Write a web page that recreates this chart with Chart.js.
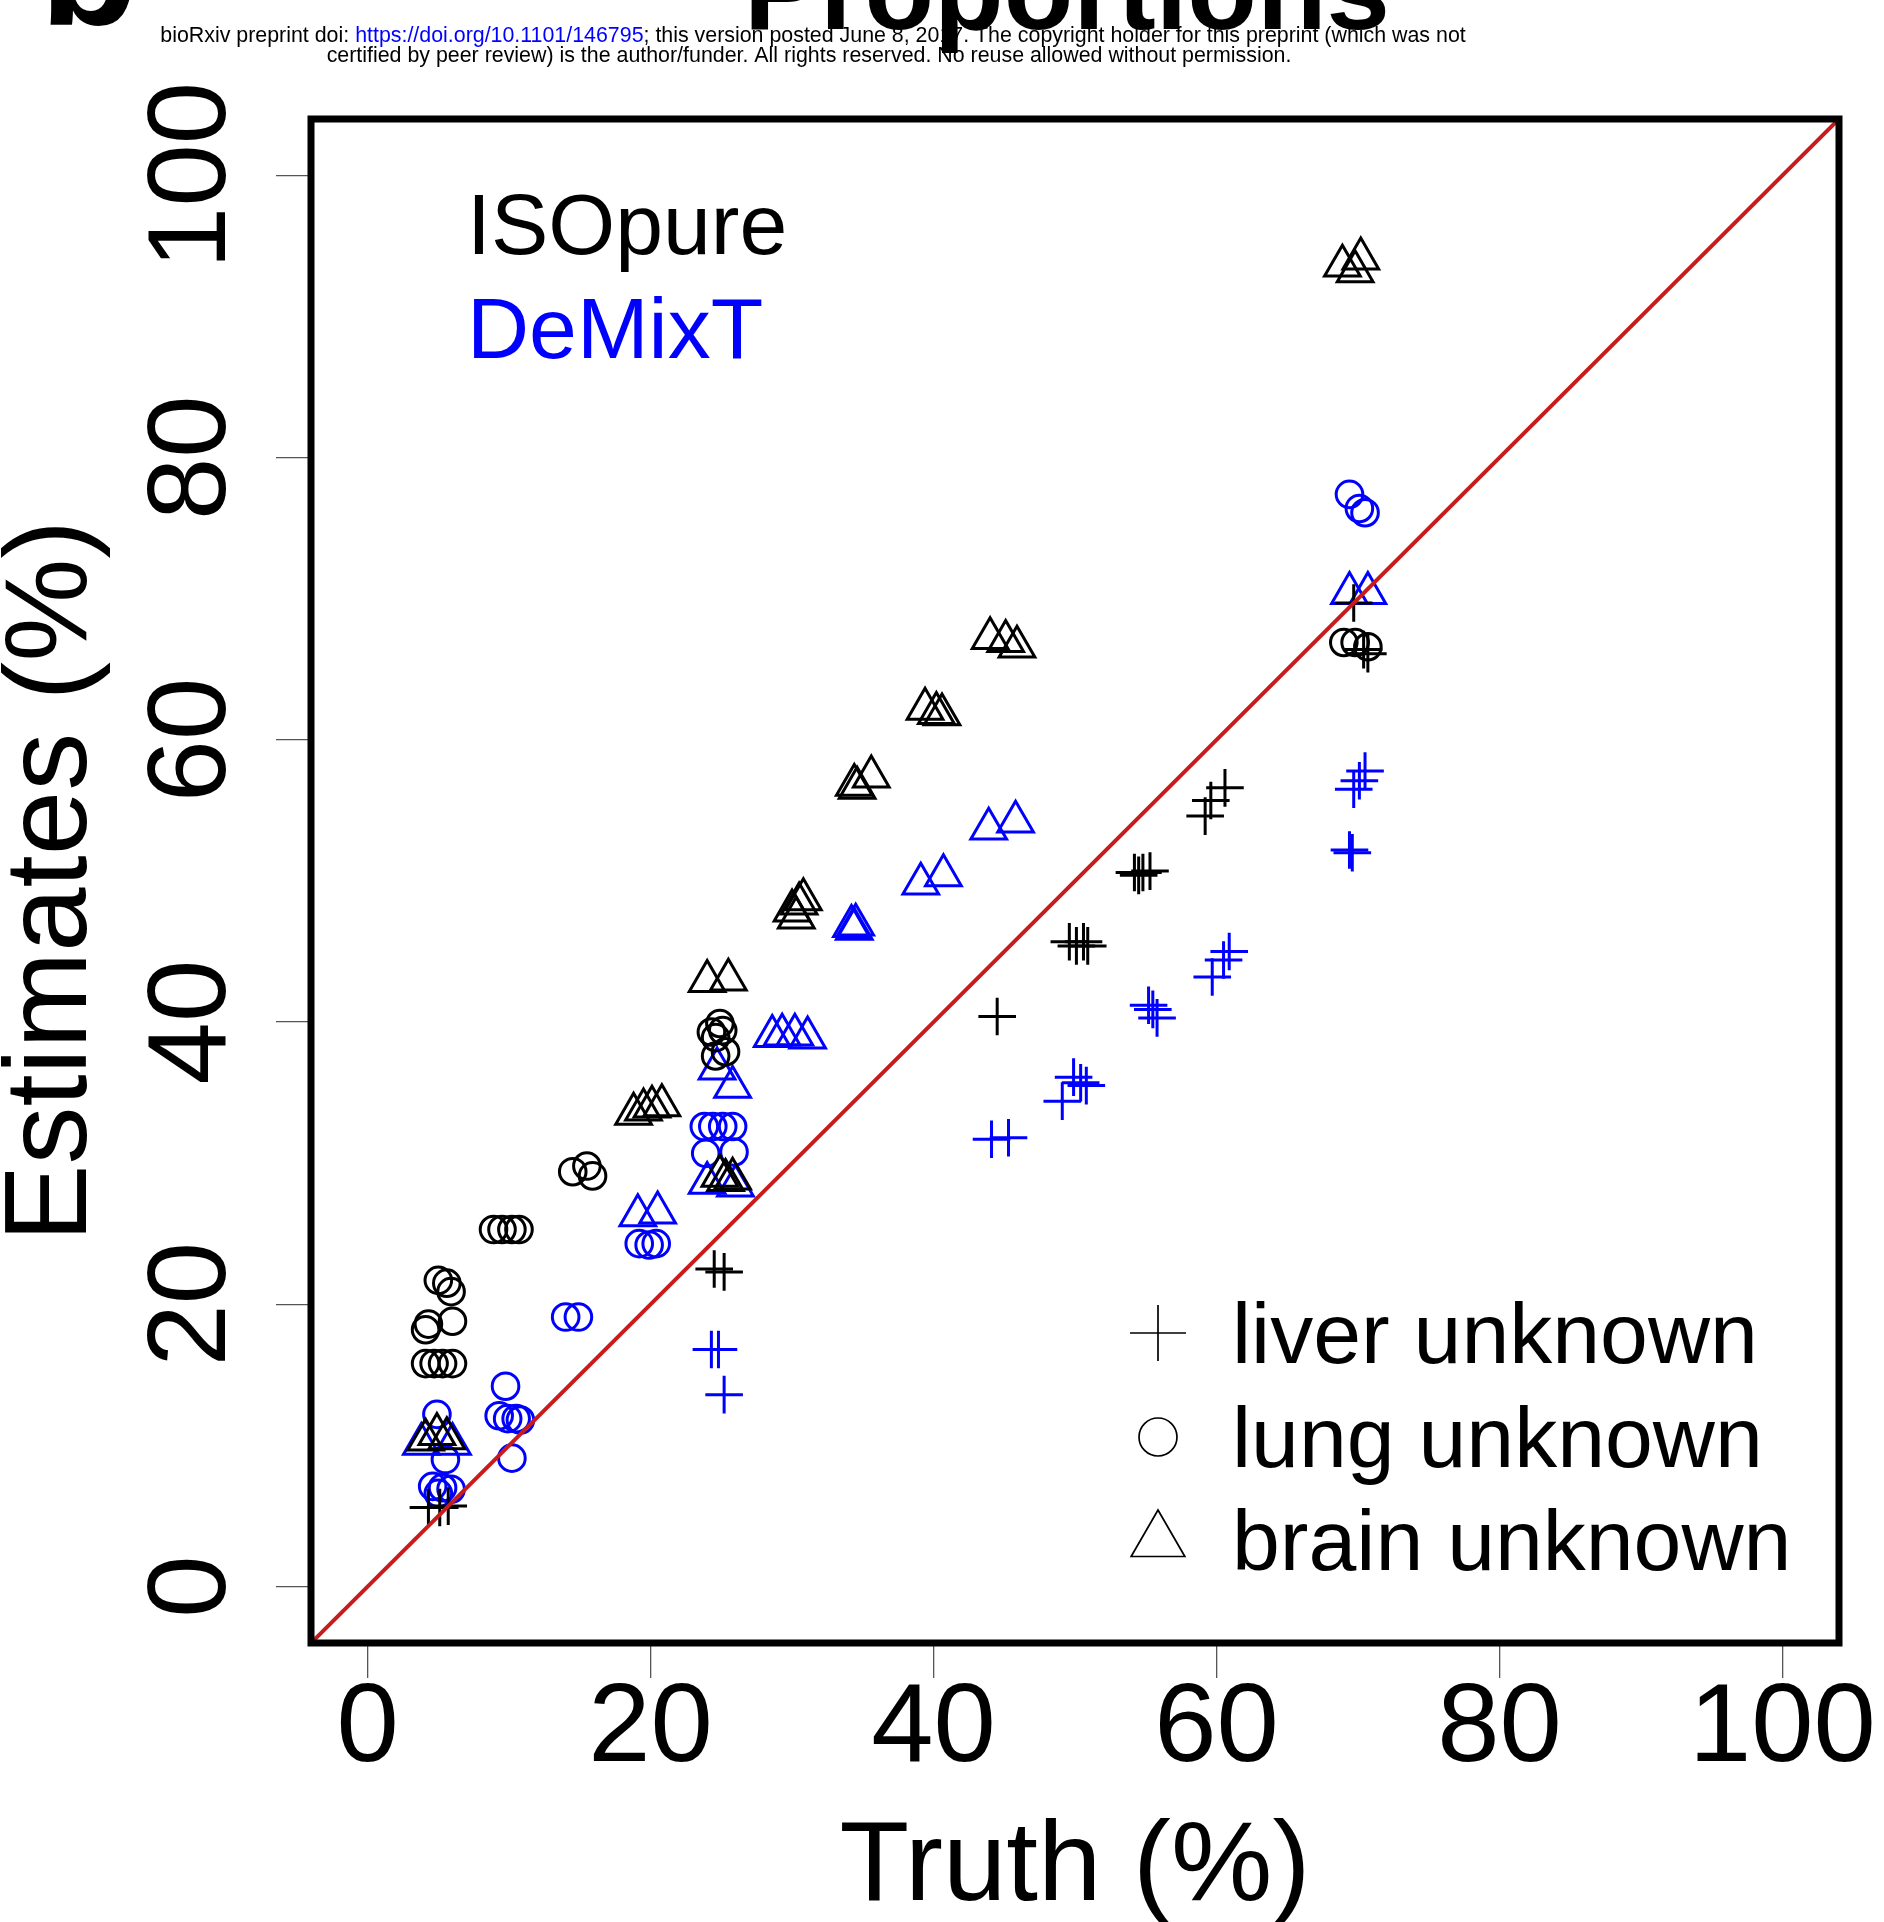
<!DOCTYPE html>
<html>
<head>
<meta charset="utf-8">
<title>ISOpure vs DeMixT proportions</title>
<script src="https://cdn.jsdelivr.net/npm/chart.js@4.4.1/dist/chart.umd.min.js"></script>
<style>
    html, body { margin: 0; padding: 0; background: #fff; }
    #wrap { position: relative; width: 1884px; height: 1922px; }
</style>
</head>
<body>
<div id="wrap"><canvas id="grafico"></canvas></div>
<script>
const FONT = '"Liberation Sans", Arial, Helvetica, sans-serif';

// axis ticks
const xTicks = [0, 20, 40, 60, 80, 100];
const yTicks = [0, 20, 40, 60, 80, 100];

// identity line y = x
const diagX = [-4, 104];
const diagY = [-4, 104];

// ISOpure (black)
const isoLiverTruth = [4.3, 5.1, 5.7, 24.5, 25.2, 44.5, 49.6, 50.1, 50.6, 50.9, 54.2, 54.5, 54.8, 55.3, 59.2, 59.6, 60.6, 69.7, 70.4, 70.7];
const isoLiverEst   = [5.6, 5.6, 5.7, 22.5, 22.3, 40.4, 45.7, 45.4, 45.7, 45.4, 50.6, 50.4, 50.6, 50.7, 54.6, 55.7, 56.6, 69.7, 66.4, 66.1];

const isoLungTruth = [5.0, 5.6, 5.9, 4.1, 4.3, 6.0, 4.1, 4.7, 5.3, 6.0, 8.9, 9.5, 10.2, 10.7, 14.5, 15.5, 15.9, 24.3, 24.9, 24.6, 25.1, 25.3, 24.6, 69.0, 69.8, 70.7];
const isoLungEst   = [21.7, 21.5, 20.9, 18.2, 18.6, 18.8, 15.8, 15.8, 15.8, 15.8, 25.3, 25.3, 25.3, 25.3, 29.4, 29.8, 29.1, 39.3, 39.9, 38.9, 39.4, 37.9, 37.6, 66.9, 66.9, 66.6];

const isoBrainTruth = [4.1, 4.9, 5.6, 18.8, 19.5, 20.1, 20.8, 24.0, 25.5, 24.9, 25.3, 25.8, 30.0, 30.3, 30.5, 30.8, 34.4, 34.6, 35.6, 39.4, 40.2, 40.6, 44.0, 45.1, 45.9, 68.9, 70.2, 69.8];
const isoBrainEst   = [10.4, 10.8, 10.5, 33.5, 33.8, 34.0, 34.1, 42.9, 43.0, 29.1, 28.8, 28.9, 47.9, 47.4, 48.4, 48.7, 56.8, 56.6, 57.4, 62.2, 61.9, 61.8, 67.2, 67.0, 66.6, 93.6, 94.1, 93.2];

// DeMixT (blue)
const dmxLiverTruth = [24.3, 24.8, 25.2, 44.1, 45.3, 49.1, 49.9, 50.4, 50.8, 55.2, 55.5, 55.8, 59.7, 60.5, 60.9, 69.4, 69.6, 69.7, 70.1, 70.5];
const dmxLiverEst   = [16.8, 16.8, 13.6, 31.7, 31.8, 34.4, 36.1, 35.7, 35.5, 41.2, 40.9, 40.3, 43.2, 44.4, 45.0, 52.2, 52.0, 56.5, 57.1, 57.8];

const dmxLungTruth = [4.9, 5.5, 4.6, 5.3, 5.9, 5.0, 9.75, 9.3, 9.9, 10.5, 10.8, 10.2, 14.0, 14.9, 19.2, 19.9, 20.4, 23.8, 24.4, 25.1, 25.8, 23.9, 25.9, 69.4, 70.1, 70.5];
const dmxLungEst   = [12.2, 9.0, 7.1, 7.0, 6.9, 6.6, 14.2, 12.1, 11.9, 11.9, 11.8, 9.1, 19.1, 19.1, 24.3, 24.2, 24.3, 32.6, 32.6, 32.6, 32.6, 30.7, 30.8, 77.4, 76.4, 76.1];

const dmxBrainTruth = [3.8, 6.0, 19.1, 20.5, 24.7, 25.8, 24.0, 26.0, 28.6, 29.3, 30.2, 31.1, 34.2, 34.4, 34.5, 39.1, 40.7, 43.9, 45.8, 69.4, 70.7];
const dmxBrainEst   = [10.1, 10.1, 26.3, 26.5, 36.7, 35.4, 28.6, 28.4, 39.0, 39.1, 39.1, 38.9, 46.8, 46.6, 46.9, 49.8, 50.4, 53.7, 54.2, 70.4, 70.4];

const methodNames = ['ISOpure', 'DeMixT'];
const legendLabels = ['liver unknown', 'lung unknown', 'brain unknown'];

const BLACK = '#000000';
const BLUE = '#0000ff';
const RED = '#c81c1c';

function pts(xs, ys) {
    return xs.map((x, i) => ({ x: x, y: ys[i] }));
}

function marker(label, xs, ys, style, color) {
    const radius = style === 'circle' ? 13.3 : (style === 'cross' ? 18.8 : 20.6);
    return {
        label: label,
        data: pts(xs, ys),
        pointStyle: style,
        pointRadius: radius,
        pointHoverRadius: radius,
        pointBorderWidth: 3,
        borderColor: color,
        backgroundColor: 'rgba(0,0,0,0)',
        showLine: false
    };
}

// legend symbols (R style, thin lines)
function drawSymbol(ctx, style, x, y) {
    ctx.beginPath();
    if (style === 'cross') {
        ctx.moveTo(x - 28, y); ctx.lineTo(x + 28, y);
        ctx.moveTo(x, y - 28); ctx.lineTo(x, y + 28);
    } else if (style === 'circle') {
        ctx.arc(x, y, 19, 0, Math.PI * 2);
    } else {
        const r = 31;
        ctx.moveTo(x, y - r);
        ctx.lineTo(x + r * Math.sin(2 * Math.PI / 3), y - r * Math.cos(2 * Math.PI / 3));
        ctx.lineTo(x + r * Math.sin(4 * Math.PI / 3), y - r * Math.cos(4 * Math.PI / 3));
        ctx.closePath();
    }
    ctx.stroke();
}

const decorPlugin = {
    id: 'decor',
    afterDraw(chart) {
        const ctx = chart.ctx;
        const a = chart.chartArea;
        ctx.save();

        // plot box
        ctx.lineWidth = 7;
        ctx.strokeStyle = BLACK;
        ctx.strokeRect(a.left, a.top, a.right - a.left, a.bottom - a.top);

        // method names, top left
        ctx.textBaseline = 'alphabetic';
        ctx.textAlign = 'left';
        ctx.font = '86px ' + FONT;
        ctx.fillStyle = BLACK;
        ctx.fillText(methodNames[0], a.left + 156, a.top + 135);
        ctx.fillStyle = BLUE;
        ctx.fillText(methodNames[1], a.left + 156, a.top + 239);

        // symbol legend, bottom right
        const styles = ['cross', 'circle', 'triangle'];
        const baselines = [1363, 1467, 1570];
        const centers = [1333, 1437, 1541];
        ctx.strokeStyle = BLACK;
        ctx.fillStyle = BLACK;
        ctx.lineWidth = 1.7;
        for (let i = 0; i < 3; i++) {
            drawSymbol(ctx, styles[i], 1158, centers[i]);
            ctx.fillText(legendLabels[i], 1232, baselines[i]);
        }

        // preprint header
        const l1a = 'bioRxiv preprint doi: ';
        const l1b = 'https://doi.org/10.1101/146795';
        const l1c = '; this version posted June 8, 2017. The copyright holder for this preprint (which was not';
        const l2 = 'certified by peer review) is the author/funder. All rights reserved. No reuse allowed without permission.';
        ctx.font = '20px ' + FONT;
        const size = 20 * 1306 / ctx.measureText(l1a + l1b + l1c).width;
        ctx.font = size + 'px ' + FONT;
        const w1 = ctx.measureText(l1a + l1b + l1c).width;
        let x = 813 - w1 / 2;
        ctx.fillStyle = BLACK;
        ctx.fillText(l1a, x, 41.5);
        x += ctx.measureText(l1a).width;
        ctx.fillStyle = BLUE;
        ctx.fillText(l1b, x, 41.5);
        x += ctx.measureText(l1b).width;
        ctx.fillStyle = BLACK;
        ctx.fillText(l1c, x, 41.5);
        const w2 = ctx.measureText(l2).width;
        ctx.fillText(l2, 809 - w2 / 2, 62);

        // clipped panel letter and title from the page above
        ctx.font = 'bold 160px ' + FONT;
        ctx.fillText('b', 40, 25);
        ctx.font = 'bold 114px ' + FONT;
        ctx.fillText('Proportions', 744, 29);

        ctx.restore();
    }
};

const ctx = document.getElementById('grafico').getContext('2d');

window.meuGrafico = new Chart(ctx, {
    type: 'scatter',
    data: {
        datasets: [
            {
                type: 'line',
                label: 'y = x',
                data: pts(diagX, diagY),
                borderColor: RED,
                borderWidth: 4,
                pointRadius: 0,
                fill: false,
                order: -1
            },
            marker('ISOpure liver', isoLiverTruth, isoLiverEst, 'cross', BLACK),
            marker('ISOpure lung', isoLungTruth, isoLungEst, 'circle', BLACK),
            marker('ISOpure brain', isoBrainTruth, isoBrainEst, 'triangle', BLACK),
            marker('DeMixT liver', dmxLiverTruth, dmxLiverEst, 'cross', BLUE),
            marker('DeMixT lung', dmxLungTruth, dmxLungEst, 'circle', BLUE),
            marker('DeMixT brain', dmxBrainTruth, dmxBrainEst, 'triangle', BLUE)
        ]
    },
    options: {
        responsive: true,
        maintainAspectRatio: false,
        animation: false,
        events: [],
        layout: { padding: { top: 119, right: 45, left: 0, bottom: 0 } },
        plugins: {
            legend: { display: false },
            tooltip: { enabled: false }
        },
        scales: {
            x: {
                type: 'linear',
                position: 'bottom',
                min: -4,
                max: 104,
                afterBuildTicks: s => { s.ticks = xTicks.map(v => ({ value: v })); },
                afterFit: s => { s.height = 279; },
                border: { display: false },
                grid: { drawOnChartArea: false, drawTicks: true, tickLength: 35, color: '#555', lineWidth: 1.3 },
                ticks: {
                    font: { family: FONT, size: 112, lineHeight: 1 },
                    color: BLACK,
                    padding: -4,
                    minRotation: 0,
                    maxRotation: 0,
                    autoSkip: false
                },
                title: {
                    display: true,
                    text: 'Truth (%)',
                    color: BLACK,
                    font: { family: FONT, size: 114, lineHeight: 0.9 },
                    padding: { top: 0, bottom: 2 }
                }
            },
            y: {
                type: 'linear',
                position: 'left',
                min: -4,
                max: 104,
                afterBuildTicks: s => { s.ticks = yTicks.map(v => ({ value: v })); },
                afterFit: s => { s.width = 311; },
                border: { display: false },
                grid: { drawOnChartArea: false, drawTicks: true, tickLength: 35, color: '#555', lineWidth: 1.3 },
                ticks: {
                    font: { family: FONT, size: 112, lineHeight: 1 },
                    color: BLACK,
                    padding: -12,
                    minRotation: 90,
                    maxRotation: 90,
                    crossAlign: 'center',
                    autoSkip: false
                },
                title: {
                    display: true,
                    text: 'Estimates (%)',
                    color: BLACK,
                    font: { family: FONT, size: 116, lineHeight: 0.9 },
                    padding: { top: 2, bottom: 0 }
                }
            }
        }
    },
    plugins: [decorPlugin]
});
</script>
</body>
</html>
